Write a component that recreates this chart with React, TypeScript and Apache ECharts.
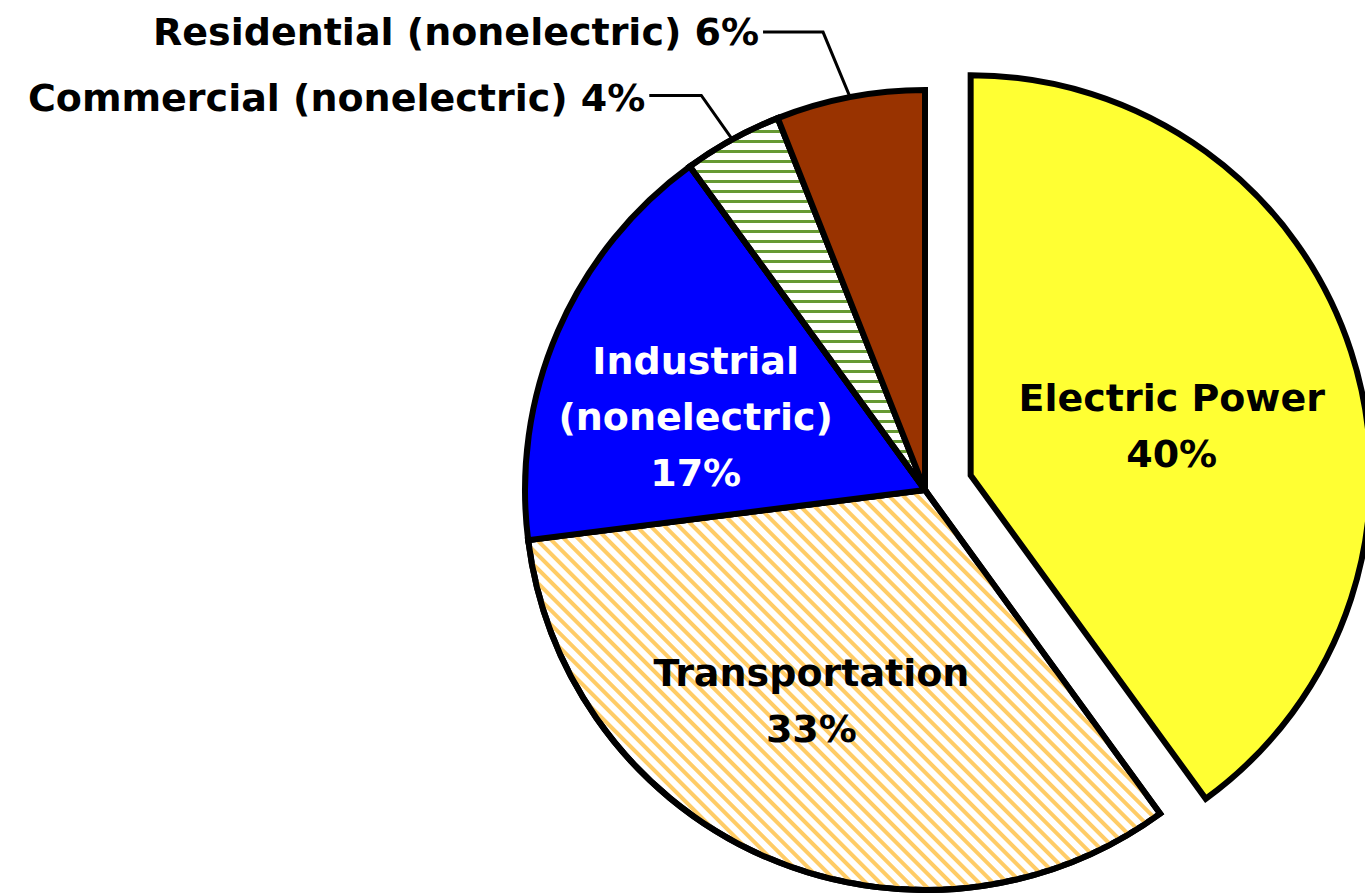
import React, { useEffect, useRef } from "react";
import * as echarts from "echarts";

const categories = [
  "Electric Power",
  "Transportation",
  "Industrial\n(nonelectric)",
  "Commercial (nonelectric)",
  "Residential (nonelectric)",
];
const shares = [40, 33, 17, 4, 6];
const fills = ["#FFFF33", "#FFFFFF", "#0000FF", "#FFFFFF", "#993300"];
const labelColors = ["#000000", "#000000", "#FFFFFF", "#000000", "#000000"];
const outsideIdx = [3, 4];
// label nudges for inside labels [dx, dy]
const insideNudge: Record<number, [number, number]> = {
  0: [8, 14],
  1: [-33, 25],
  2: [-43, 8],
};
// leader geometry for outside labels: bend offset from slice edge, horizontal run, text dy
const leader: Record<number, { bend: [number, number]; run: number; dy: number }> = {
  3: { bend: [-31, -44], run: 52, dy: 3 },
  4: { bend: [-27, -65], run: 60, dy: 0 },
};

export default function App() {
  const ref = useRef<HTMLDivElement>(null);
  useEffect(() => {
    if (!ref.current) return;
    const chart = echarts.init(ref.current, null, { renderer: "svg" });
    const font = "'DejaVu Sans', 'Liberation Sans', Arial, sans-serif";
    const data = categories.map((name, i) => {
      const item: any = {
        name,
        value: shares[i],
        selected: i === 0,
        itemStyle: { color: fills[i] },
        label: {
          color: labelColors[i],
          position: outsideIdx.includes(i) ? "outside" : "inside",
        },
        labelLine: { show: outsideIdx.includes(i) },
      };
      if (i === 1) {
        item.itemStyle.decal = {
          symbol: "rect",
          symbolSize: 1,
          color: "#FFCC66",
          dashArrayX: [1, 0],
          dashArrayY: [3.6, 5.2],
          rotation: Math.PI / 4,
        };
      }
      if (i === 3) {
        item.itemStyle.decal = {
          symbol: "rect",
          symbolSize: 1,
          color: "#669933",
          dashArrayX: [1, 0],
          dashArrayY: [3, 7],
          rotation: 0,
        };
      }
      return item;
    });
    chart.setOption({
      animation: false,
      backgroundColor: "#FFFFFF",
      series: [
        {
          type: "pie",
          center: [925, 490],
          radius: [0, 400],
          startAngle: 90,
          clockwise: true,
          selectedMode: "single",
          selectedOffset: 48,
          avoidLabelOverlap: false,
          emphasis: { disabled: true },
          select: { itemStyle: { borderColor: "#000", borderWidth: 6 } },
          itemStyle: { borderColor: "#000000", borderWidth: 6, borderJoin: "miter" },
          label: {
            show: true,
            formatter: (p: any) =>
              outsideIdx.includes(p.dataIndex)
                ? `${p.name} ${p.value}%`
                : `${p.name}\n${p.value}%`,
            fontFamily: font,
            fontWeight: "bold",
            fontSize: 38,
            lineHeight: 56,
            align: "center",
          },
          labelLine: {
            show: true,
            lineStyle: { color: "#000000", width: 3 },
            length: 20,
            length2: 20,
          },
          labelLayout: (params: any) => {
            const i = params.dataIndex;
            if (insideNudge[i]) {
              return { dx: insideNudge[i][0], dy: insideNudge[i][1] };
            }
            const L = leader[i];
            const pts = params.labelLinePoints;
            if (!L || !pts) return {};
            const p0 = pts[0];
            const bend = [p0[0] + L.bend[0], p0[1] + L.bend[1]];
            const end = [bend[0] - L.run, bend[1]];
            return {
              x: end[0] - 4,
              y: end[1] + L.dy,
              align: "right",
              verticalAlign: "middle",
              labelLinePoints: [p0, bend, end],
            };
          },
          data,
        },
      ],
    });
    return () => chart.dispose();
  }, []);
  return (
    <div
      ref={ref}
      style={{ position: "absolute", left: 0, top: 0, width: 1365, height: 893 }}
    />
  );
}
